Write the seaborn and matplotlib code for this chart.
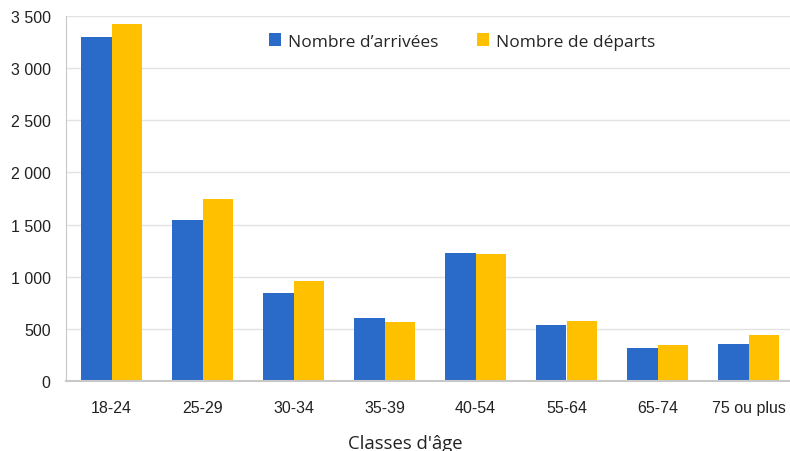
import pandas as pd
import matplotlib.pyplot as plt
import seaborn as sns
from matplotlib.ticker import FuncFormatter

# Données
classes = ["18-24", "25-29", "30-34", "35-39", "40-54", "55-64", "65-74", "75 ou plus"]
arrivees = [3300, 1540, 840, 600, 1225, 537, 316, 355]
departs = [3420, 1750, 960, 565, 1215, 575, 345, 441]
series = ["Nombre d’arrivées", "Nombre de départs"]

df = pd.DataFrame({
    "classe": classes * 2,
    "valeur": arrivees + departs,
    "serie": [series[0]] * len(classes) + [series[1]] * len(classes),
})

sns.set_style("white")
plt.rcParams['font.family'] = ['Liberation Sans', 'DejaVu Sans']

fig = plt.figure(figsize=(7.9, 4.52), dpi=100)
ax = fig.add_axes([66 / 790, 1 - 382 / 452, 728 / 790, 365 / 452])

sns.barplot(data=df, x="classe", y="valeur", hue="serie",
            palette=["#2a6bca", "#ffc000"], width=0.68, saturation=1,
            linewidth=0, ax=ax)

ax.set_ylim(0, 3500)
ax.set_xlim(-0.5, 7.5)
ax.set_yticks(range(0, 3501, 500))
ax.yaxis.set_major_formatter(FuncFormatter(lambda v, p: f"{int(v):,}".replace(",", " ")))
ax.grid(axis="y", color="#e3e3e3", linewidth=1)
ax.set_axisbelow(True)

for s in ["top", "right"]:
    ax.spines[s].set_visible(False)
ax.spines["left"].set_color("#c8c8c8")
ax.spines["bottom"].set_color("#c8c8c8")
ax.spines["bottom"].set_linewidth(1.5)
ax.tick_params(axis="y", length=8, color="#c8c8c8", labelsize=11.5, pad=3, labelcolor="#222222")
ax.tick_params(axis="x", length=0, labelsize=11.5, pad=14, labelcolor="#222222")

ax.set_ylabel("")
ax.set_xlabel("Classes d'âge", family=["Open Sans", "DejaVu Sans"], fontsize=13.3,
              color="#222222")
ax.xaxis.set_label_coords((405 - 66) / 728, -0.146)

ax.legend(title=None, loc="upper center", bbox_to_anchor=(0.544, 0.995), ncol=2,
          frameon=False, prop={"family": "Open Sans", "size": 12.5},
          handlelength=0.7, handleheight=0.7, handletextpad=0.4, columnspacing=2.2)

fig.savefig("out.png", dpi=100)
